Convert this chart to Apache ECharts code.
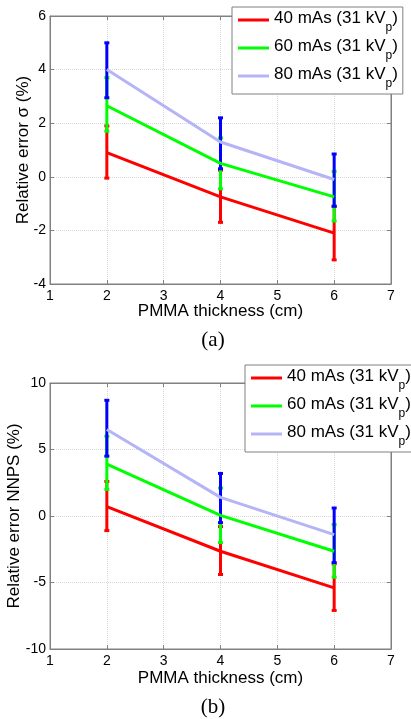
<!DOCTYPE html>
<html>
<head>
    <meta charset="UTF-8" />
    <script src="https://cdn.jsdelivr.net/npm/echarts@6/dist/echarts.min.js"></script>
</head>
<body style="margin: 0; overflow: hidden; background: #fff;">
    <div id="chart" style="width: 411px; height: 719px;"></div>
    <script type="text/javascript">
        // PMMA thickness (cm)
        const thickness = [2, 4, 6];
        const seriesNames = ['40 mAs', '60 mAs', '80 mAs'];

        // (a) relative error sigma (%)
        const sigma40 = [0.9, -0.75, -2.1];
        const sigma40Low = [-0.05, -1.7, -3.1];
        const sigma40High = [1.9, 0.25, -1.1];
        const sigma60 = [2.65, 0.5, -0.75];
        const sigma60Low = [1.7, -0.45, -1.65];
        const sigma60High = [3.7, 1.45, 0.2];
        const sigma80 = [4.0, 1.3, -0.1];
        const sigma80Low = [2.95, 0.3, -1.1];
        const sigma80High = [5.0, 2.2, 0.85];

        // (b) relative error NNPS (%)
        const nnps40 = [0.7, -2.65, -5.4];
        const nnps40Low = [-1.1, -4.4, -7.1];
        const nnps40High = [2.6, -0.8, -3.6];
        const nnps60 = [3.9, 0.05, -2.65];
        const nnps60Low = [2.0, -2.0, -4.6];
        const nnps60High = [6.0, 2.1, -0.65];
        const nnps80 = [6.5, 1.4, -1.4];
        const nnps80Low = [4.5, -0.5, -3.5];
        const nnps80High = [8.7, 3.2, 0.6];

        const xTicks = [1, 7, 1];
        const yTicksA = [-4, 6, 2];
        const yTicksB = [-10, 10, 5];

        const lineColors = ['#ff0000', '#00ff00', '#b4b4f6'];
        const barColors = ['#ff0000', '#00ff00', '#0000ff'];
        const font = 'Liberation Sans, Arial, sans-serif';

        const chart = echarts.init(document.getElementById('chart'));

        function pairs(ys) {
            return thickness.map((x, i) => [x, ys[i]]);
        }
        function bars(lo, hi) {
            return thickness.map((x, i) => [x, lo[i], hi[i]]);
        }

        function renderBar(params, api) {
            const x = api.value(0);
            const p1 = api.coord([x, api.value(1)]);
            const p2 = api.coord([x, api.value(2)]);
            const c = api.visual('color');
            return {
                type: 'group',
                children: [
                    { type: 'line', shape: { x1: p1[0], y1: p1[1], x2: p2[0], y2: p2[1] }, style: { stroke: c, lineWidth: 3 } },
                    { type: 'rect', shape: { x: p1[0] - 2.5, y: p1[1] - 1.5, width: 5, height: 3 }, style: { fill: c } },
                    { type: 'rect', shape: { x: p2[0] - 2.5, y: p2[1] - 1.5, width: 5, height: 3 }, style: { fill: c } }
                ]
            };
        }

        function mainX(grid, gap) {
            return {
                type: 'value', gridIndex: grid, min: xTicks[0], max: xTicks[1], interval: xTicks[2],
                name: 'PMMA thickness (cm)', nameLocation: 'middle', nameGap: gap, nameMoveOverlap: false,
                nameTextStyle: { fontFamily: font, fontSize: 17, color: '#000' },
                axisLine: { onZero: false, lineStyle: { color: '#808080' } },
                axisTick: { inside: true, length: 4, lineStyle: { color: '#808080' } },
                axisLabel: { fontFamily: font, fontSize: 14, color: '#000', margin: 5 },
                splitLine: { show: true, lineStyle: { color: '#d8d8d8', type: 'dotted' } }
            };
        }
        function topX(grid) {
            return {
                type: 'value', gridIndex: grid, position: 'top', min: xTicks[0], max: xTicks[1], interval: xTicks[2],
                axisLine: { onZero: false, lineStyle: { color: '#808080' } },
                axisTick: { inside: true, length: 4, lineStyle: { color: '#808080' } },
                axisLabel: { show: false }, splitLine: { show: false }
            };
        }
        function mainY(grid, t, name, gap) {
            return {
                type: 'value', gridIndex: grid, min: t[0], max: t[1], interval: t[2],
                name: name, nameLocation: 'middle', nameGap: gap, nameMoveOverlap: false,
                nameTextStyle: { fontFamily: font, fontSize: 17, color: '#000' },
                axisLine: { show: true, onZero: false, lineStyle: { color: '#808080' } },
                axisTick: { show: true, inside: true, length: 4, lineStyle: { color: '#808080' } },
                axisLabel: { fontFamily: font, fontSize: 14, color: '#000', margin: 4 },
                splitLine: { show: true, lineStyle: { color: '#d8d8d8', type: 'dotted' } }
            };
        }
        function rightY(grid, t) {
            return {
                type: 'value', gridIndex: grid, position: 'right', min: t[0], max: t[1], interval: t[2],
                axisLine: { show: true, onZero: false, lineStyle: { color: '#808080' } },
                axisTick: { show: true, inside: true, length: 4, lineStyle: { color: '#808080' } },
                axisLabel: { show: false }, splitLine: { show: false }
            };
        }
        function legend(left, top) {
            return {
                orient: 'vertical', left: left, top: top,
                data: seriesNames,
                icon: 'rect',
                backgroundColor: '#fff', borderColor: '#808080', borderWidth: 1, borderRadius: 0,
                padding: [3, 5, 4, 6],
                itemWidth: 31, itemHeight: 3, itemGap: 4, itemTextGap: 4,
                formatter: function (name) {
                    return '{t|' + name + ' (31 kV}{p|p}{t|)}';
                },
                textStyle: {
                    fontFamily: font, fontSize: 17, color: '#000',
                    rich: {
                        t: { fontFamily: font, fontSize: 17, color: '#000', lineHeight: 20, verticalAlign: 'top' },
                        p: { fontFamily: font, fontSize: 12, color: '#000', lineHeight: 12, padding: [12, 0, 0, 0], verticalAlign: 'top' }
                    }
                }
            };
        }
        function lineSeries(i, xi, yi, ys) {
            return {
                name: seriesNames[i], type: 'line', xAxisIndex: xi, yAxisIndex: yi,
                data: pairs(ys), symbol: 'none', silent: true, animation: false,
                color: lineColors[i],
                lineStyle: { color: lineColors[i], width: 3 }
            };
        }
        function barSeries(i, xi, yi, lo, hi) {
            return {
                name: seriesNames[i] + ' error', type: 'custom', xAxisIndex: xi, yAxisIndex: yi,
                data: bars(lo, hi), renderItem: renderBar, silent: true, animation: false,
                itemStyle: { color: barColors[i] },
                encode: { x: 0, y: [1, 2] }, z: 3
            };
        }

        const option = {
            animation: false,
            grid: [
                { left: 50, top: 16, width: 341, height: 268, show: true, borderColor: '#808080', borderWidth: 1, outerBoundsMode: 'none' },
                { left: 50, top: 383, width: 341, height: 266, show: true, borderColor: '#808080', borderWidth: 1, outerBoundsMode: 'none' }
            ],
            xAxis: [mainX(0, 19), topX(0), mainX(1, 21), topX(1)],
            yAxis: [
                mainY(0, yTicksA, 'Relative error σ (%)', 18), rightY(0, yTicksA),
                mainY(1, yTicksB, 'Relative error NNPS (%)', 27), rightY(1, yTicksB)
            ],
            legend: [legend(232, 7), legend(245, 365)],
            graphic: [
                { type: 'text', x: 213, y: 340, style: { text: '(a)', fontFamily: 'Liberation Serif, Times New Roman, serif', fontSize: 21, fill: '#000', textAlign: 'center', textVerticalAlign: 'middle' } },
                { type: 'text', x: 213, y: 707, style: { text: '(b)', fontFamily: 'Liberation Serif, Times New Roman, serif', fontSize: 21, fill: '#000', textAlign: 'center', textVerticalAlign: 'middle' } }
            ],
            series: [
                lineSeries(0, 0, 0, sigma40), lineSeries(1, 0, 0, sigma60), lineSeries(2, 0, 0, sigma80),
                barSeries(0, 0, 0, sigma40Low, sigma40High),
                barSeries(1, 0, 0, sigma60Low, sigma60High),
                barSeries(2, 0, 0, sigma80Low, sigma80High),
                lineSeries(0, 2, 2, nnps40), lineSeries(1, 2, 2, nnps60), lineSeries(2, 2, 2, nnps80),
                barSeries(0, 2, 2, nnps40Low, nnps40High),
                barSeries(1, 2, 2, nnps60Low, nnps60High),
                barSeries(2, 2, 2, nnps80Low, nnps80High)
            ]
        };
        chart.setOption(option);
    </script>
</body>
</html>
